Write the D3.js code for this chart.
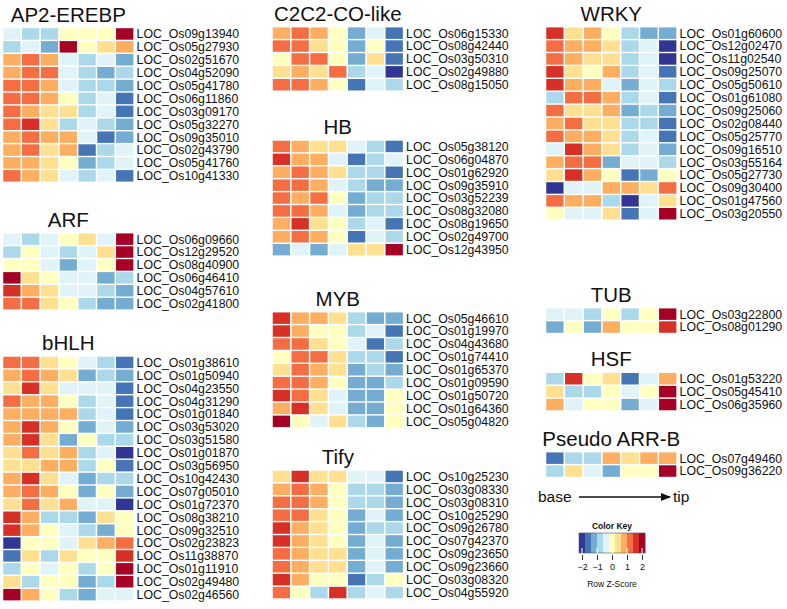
<!DOCTYPE html>
<html>
<head>
<meta charset="utf-8">
<script src="https://cdn.jsdelivr.net/npm/d3@7"></script>
<style>
  body { margin: 0; background: #fff; }
  svg { display: block; font-family: "Liberation Sans", Arial, sans-serif; }
</style>
</head>
<body>
<svg id="chart"></svg>
<script>
// leaf sections, base -> tip
const stages = ['s1', 's2', 's3', 's4', 's5', 's6', 's7'];

const ap2Genes = ['LOC_Os09g13940', 'LOC_Os05g27930', 'LOC_Os02g51670', 'LOC_Os04g52090', 'LOC_Os05g41780',
    'LOC_Os06g11860', 'LOC_Os03g09170', 'LOC_Os05g32270', 'LOC_Os09g35010', 'LOC_Os02g43790', 'LOC_Os05g41760', 'LOC_Os10g41330'];
const ap2Values = [
    [-0.4, -0.8, -0.8, 0, 0, 0, 2],
    [-0.8, -0.4, -1.2, 2, 0, 0.4, 0.8],
    [0.8, 1.2, 0.8, -0.4, -0.8, -0.4, -1.2],
    [0.8, 1.2, 1.2, -0.4, -0.8, -1.2, -0.8],
    [1.2, 1.2, 0.8, -0.4, -0.8, -0.8, -1.2],
    [1.2, 1.2, 0.8, 0, -0.8, -0.4, -1.6],
    [1.2, 0.8, 0.4, 0.4, -0.8, -0.4, -1.6],
    [1.2, 1.6, 0.4, -0.8, -0.4, -0.8, -1.2],
    [0.8, 1.2, 0.8, 0.8, -0.4, -1.6, -1.2],
    [0.8, 1.2, 0.4, 0.8, -1.6, -0.8, -0.4],
    [0.8, 0.8, 0.4, 0, -1.2, -0.8, -0.4],
    [1.2, 0.8, 0.4, -0.4, -0.8, -0.4, -1.6]
];

const arfGenes = ['LOC_Os06g09660', 'LOC_Os12g29520', 'LOC_Os08g40900', 'LOC_Os06g46410', 'LOC_Os04g57610', 'LOC_Os02g41800'];
const arfValues = [
    [-0.4, -0.8, -0.4, 0, 0.4, -0.4, 2],
    [-0.8, 0, -0.4, -0.8, -0.4, 0.4, 2],
    [0, 0, -0.4, -1.2, -0.4, 0, 2],
    [2, 0.4, 0, -0.4, -0.4, -1.2, -0.8],
    [1.6, 0.8, 0.4, -0.4, -0.4, -0.8, -1.2],
    [1.2, 1.2, 0.4, 0, -0.8, -1.2, -1.2]
];

const bhlhGenes = ['LOC_Os01g38610', 'LOC_Os01g50940', 'LOC_Os04g23550', 'LOC_Os04g31290', 'LOC_Os01g01840',
    'LOC_Os03g53020', 'LOC_Os03g51580', 'LOC_Os01g01870', 'LOC_Os03g56950', 'LOC_Os10g42430', 'LOC_Os07g05010',
    'LOC_Os01g72370', 'LOC_Os08g38210', 'LOC_Os09g32510', 'LOC_Os02g23823', 'LOC_Os11g38870', 'LOC_Os01g11910',
    'LOC_Os02g49480', 'LOC_Os02g46560'];
const bhlhValues = [
    [1.2, 1.2, 0.4, 0, -0.4, -0.8, -1.6],
    [0.8, 1.2, 0.8, 0.4, -1.2, -0.8, -1.2],
    [0.4, 1.6, 0.4, -0.4, -0.4, -0.4, -1.6],
    [1.2, 0.8, 0.8, 0, -0.8, -0.4, -1.6],
    [0.8, 0.8, 0.8, 0.8, -0.8, -0.4, -1.6],
    [0.8, 1.6, 0.8, 0, -1.2, -0.4, -1.2],
    [0.8, 1.6, 0.4, -1.2, 0, -0.8, -0.8],
    [0.4, 1.2, 0.4, 0.8, -0.8, -0.4, -2],
    [0.4, 0.4, 0.8, 0.8, -0.8, 0, -1.6],
    [0.8, 1.6, 0.4, -0.4, -1.2, -0.8, -0.8],
    [0.8, 1.2, 0.8, 0, -1.2, 0, -1.2],
    [0.4, 1.2, 0.4, 0.8, -0.4, -0.4, -2],
    [1.6, 0.8, -0.8, -0.8, -1.2, 0.4, 0],
    [1.6, 0.8, 0, -0.4, -0.8, -1.2, 0],
    [-2, 0, 0, -0.4, 0.4, 0.8, 1.2],
    [-1.6, 0.4, -0.8, 0.4, 0, 0, 1.6],
    [-0.8, 0, -0.4, 0, -0.8, 0, 2],
    [0.4, -0.8, 0, 0, -1.2, -0.8, 2],
    [2, 0.8, 0, -0.8, -1.2, -0.4, -0.4]
];

const c2c2Genes = ['LOC_Os06g15330', 'LOC_Os08g42440', 'LOC_Os03g50310', 'LOC_Os02g49880', 'LOC_Os08g15050'];
const c2c2Values = [
    [0.8, 1.2, 0.8, 0, -1.2, -0.4, -1.6],
    [1.2, 1.2, 0.4, 0, -1.2, 0, -1.6],
    [0, 1.2, 1.2, 0, -1.2, 0.4, -1.6],
    [0.4, 0.8, 0.4, 1.2, -0.8, -0.4, -2],
    [1.2, 1.2, 0.8, 0, -1.6, -0.4, -0.8]
];

const hbGenes = ['LOC_Os05g38120', 'LOC_Os06g04870', 'LOC_Os01g62920', 'LOC_Os09g35910', 'LOC_Os03g52239',
    'LOC_Os08g32080', 'LOC_Os08g19650', 'LOC_Os02g49700', 'LOC_Os12g43950'];
const hbValues = [
    [1.2, 0.8, 0.4, 0.4, -0.4, -0.8, -1.6],
    [1.6, 0.8, 0.8, -0.4, -1.6, -0.8, -0.4],
    [0.8, 1.2, 0.8, 0.4, -0.8, -0.8, -1.6],
    [1.2, 1.2, 0.8, -0.4, -0.8, -1.2, -1.2],
    [1.2, 0.8, 1.2, 0, -1.2, -0.8, -0.8],
    [1.2, 1.2, 0.8, -0.4, -1.2, -0.8, -0.8],
    [0.8, 1.6, 0.4, 0, -0.8, -0.4, -1.6],
    [0.8, 1.2, 0.8, 0, -1.6, -0.4, -0.8],
    [-1.2, -0.4, -1.2, -0.4, 0.4, 0.4, 2]
];

const mybGenes = ['LOC_Os05g46610', 'LOC_Os01g19970', 'LOC_Os04g43680', 'LOC_Os01g74410', 'LOC_Os01g65370',
    'LOC_Os01g09590', 'LOC_Os01g50720', 'LOC_Os01g64360', 'LOC_Os05g04820'];
const mybValues = [
    [1.6, 0.8, 0.8, 0.4, -0.8, -1.2, -1.2],
    [1.6, 0.8, 0, 0, -0.8, -0.4, -1.6],
    [1.2, 1.2, 0.4, 0, -0.4, -1.6, -0.8],
    [0, 1.2, 1.2, 0.4, -0.8, -0.8, -1.6],
    [0.4, 1.2, 0.8, 0.4, -1.2, -0.8, -1.2],
    [1.2, 1.2, 0.8, 0, -1.2, -1.2, -0.8],
    [1.6, 1.2, 0.4, -0.4, -1.2, -1.2, 0],
    [0.8, 1.6, 0.4, -0.4, -1.2, -1.2, 0],
    [2, 0, -0.4, 0.4, -0.8, -1.2, 0]
];

const tifyGenes = ['LOC_Os10g25230', 'LOC_Os03g08330', 'LOC_Os03g08310', 'LOC_Os10g25290', 'LOC_Os09g26780',
    'LOC_Os07g42370', 'LOC_Os09g23650', 'LOC_Os09g23660', 'LOC_Os03g08320', 'LOC_Os04g55920'];
const tifyValues = [
    [0.4, 1.6, 0.4, 0.4, -0.4, -0.4, -1.6],
    [0.8, 1.2, 0.8, 0, -0.8, -0.8, -1.2],
    [1.2, 1.2, 0.8, 0, -0.8, -0.8, -1.2],
    [1.2, 1.2, 0.4, 0, -1.2, -0.4, -1.2],
    [1.6, 0.8, 0.4, 0, -1.2, -0.8, -0.8],
    [1.6, 0.8, 0.4, 0, -1.2, -0.4, -1.2],
    [1.2, 0.8, 0.4, 0.4, -1.2, -0.4, -1.2],
    [1.2, 0.8, 0.4, 0.4, -1.2, -0.4, -1.2],
    [1.6, 0.8, 0, 0, -1.6, -0.8, 0],
    [1.2, 0, -0.8, 1.6, -0.8, -0.4, -0.8]
];

const wrkyGenes = ['LOC_Os01g60600', 'LOC_Os12g02470', 'LOC_Os11g02540', 'LOC_Os09g25070', 'LOC_Os05g50610',
    'LOC_Os01g61080', 'LOC_Os09g25060', 'LOC_Os02g08440', 'LOC_Os05g25770', 'LOC_Os09g16510', 'LOC_Os03g55164',
    'LOC_Os05g27730', 'LOC_Os09g30400', 'LOC_Os01g47560', 'LOC_Os03g20550'];
const wrkyValues = [
    [1.6, 0.4, 0.8, 0, -0.8, -1.2, -1.2],
    [1.2, 0.8, 0.8, 0.4, -0.8, -0.4, -2],
    [1.2, 0.8, 0.4, 0.4, -0.8, -0.4, -2],
    [1.6, 0.4, 0, 0.8, -0.8, -0.4, -1.6],
    [1.6, 0.8, 0.8, -0.4, -1.2, -0.4, -0.8],
    [-0.8, 1.2, 1.2, 0.8, -0.8, -0.4, -1.6],
    [1.2, 0.4, 0.4, 0.8, -1.2, -0.8, -1.2],
    [0.8, 1.2, 0.4, 0.4, -0.8, -0.8, -1.6],
    [1.2, 0.8, 0.8, 0.4, -0.8, -0.4, -1.6],
    [-0.4, 1.6, 0.8, 0.4, -0.8, -0.4, -1.2],
    [0.8, 1.2, 1.2, -1.2, -0.4, -0.4, -0.8],
    [0.4, 1.6, 0.8, 0, -1.6, -1.2, 0],
    [-2, -0.4, -0.4, 0.8, 0.8, 0.4, 1.2],
    [1.2, 0.8, 0.8, -0.8, -2, -0.4, 0.4],
    [0, -0.4, -0.4, 0.4, -1.6, -0.4, 2]
];

const tubGenes = ['LOC_Os03g22800', 'LOC_Os08g01290'];
const tubValues = [
    [-0.4, -0.4, -0.8, 0, -0.8, 0, 2],
    [-1.2, 0, -1.2, 0.8, 0, 0, 1.6]
];

const hsfGenes = ['LOC_Os01g53220', 'LOC_Os05g45410', 'LOC_Os06g35960'];
const hsfValues = [
    [-0.8, 1.6, 0, 0.4, -1.6, -0.4, 0.8],
    [0.4, -0.8, -0.8, 0, -0.4, 0, 2],
    [0.8, -0.4, 0, 0, -1.2, -0.4, 2]
];

const arrGenes = ['LOC_Os07g49460', 'LOC_Os09g36220'];
const arrValues = [
    [-1.6, -0.8, -0.8, 0.8, 0.4, 0.8, 0.8],
    [-0.8, 0.4, -0.4, -1.2, 0, 0, 2]
];

const keyTicks = [-2, -1, 0, 1, 2];

// panel placement (left edge of grid, top of first row)
const panels = [
    { title: 'AP2-EREBP', genes: ap2Genes, values: ap2Values, x: 2.5, y: 27.5 },
    { title: 'ARF', genes: arfGenes, values: arfValues, x: 2.5, y: 232.7 },
    { title: 'bHLH', genes: bhlhGenes, values: bhlhValues, x: 2.5, y: 356 },
    { title: 'C2C2-CO-like', genes: c2c2Genes, values: c2c2Values, x: 272, y: 26.7 },
    { title: 'HB', genes: hbGenes, values: hbValues, x: 272, y: 140 },
    { title: 'MYB', genes: mybGenes, values: mybValues, x: 272, y: 311.7 },
    { title: 'Tify', genes: tifyGenes, values: tifyValues, x: 272, y: 470 },
    { title: 'WRKY', genes: wrkyGenes, values: wrkyValues, x: 545.5, y: 26.7 },
    { title: 'TUB', genes: tubGenes, values: tubValues, x: 545.5, y: 307.7 },
    { title: 'HSF', genes: hsfGenes, values: hsfValues, x: 545.5, y: 372.3 },
    { title: 'Pseudo ARR-B', genes: arrGenes, values: arrValues, x: 545.5, y: 451.7 }
];

const width = 787;
const height = 609;
const cellW = 18.8;
const cellH = 12.9;

const svg = d3.select('#chart')
    .attr('width', width)
    .attr('height', height);

const colors = d3.schemeRdYlBu[11].slice().reverse();
const color = d3.scaleQuantize()
    .domain([-2.2, 2.2])
    .range(colors);

panels.forEach(function (p) {
    const xScale = d3.scaleBand()
        .domain(stages)
        .range([p.x, p.x + stages.length * cellW])
        .paddingInner(0.08)
        .paddingOuter(0.04);

    const yScale = d3.scaleBand()
        .domain(p.genes)
        .range([p.y, p.y + p.genes.length * cellH])
        .paddingInner(0.11)
        .paddingOuter(0.055);

    const g = svg.append('g');

    g.append('text')
        .attr('x', p.x + stages.length * cellW / 2)
        .attr('y', p.y - 6)
        .attr('text-anchor', 'middle')
        .attr('font-size', 20.5)
        .attr('fill', '#111')
        .text(p.title);

    const cells = [];
    p.values.forEach(function (row, i) {
        row.forEach(function (v, j) {
            cells.push({ gene: p.genes[i], stage: stages[j], value: v });
        });
    });

    g.selectAll('rect')
        .data(cells)
        .enter()
        .append('rect')
        .attr('x', function (d) { return xScale(d.stage); })
        .attr('y', function (d) { return yScale(d.gene); })
        .attr('width', xScale.bandwidth())
        .attr('height', yScale.bandwidth())
        .attr('fill', function (d) { return color(d.value); });

    g.selectAll('.gene')
        .data(p.genes)
        .enter()
        .append('text')
        .attr('class', 'gene')
        .attr('x', p.x + stages.length * cellW + 2.5)
        .attr('y', function (d) { return yScale(d) + yScale.bandwidth() / 2; })
        .attr('dy', '0.36em')
        .attr('font-size', 12.3)
        .attr('fill', '#111')
        .text(function (d) { return d; });
});

// base -> tip arrow
svg.append('defs').append('marker')
    .attr('id', 'arrow')
    .attr('viewBox', '0 0 10 10')
    .attr('refX', 9)
    .attr('refY', 5)
    .attr('markerWidth', 7)
    .attr('markerHeight', 7)
    .attr('orient', 'auto')
    .append('path')
    .attr('d', 'M0,1 L10,5 L0,9 Z')
    .attr('fill', '#111');

svg.append('text')
    .attr('x', 538)
    .attr('y', 502)
    .attr('font-size', 15.5)
    .attr('fill', '#111')
    .text('base');

svg.append('line')
    .attr('x1', 579)
    .attr('x2', 670)
    .attr('y1', 497)
    .attr('y2', 497)
    .attr('stroke', '#111')
    .attr('stroke-width', 1.5)
    .attr('marker-end', 'url(#arrow)');

svg.append('text')
    .attr('x', 673)
    .attr('y', 502)
    .attr('font-size', 15.5)
    .attr('fill', '#111')
    .text('tip');

// color key
const keyScale = d3.scaleLinear()
    .domain([-2.2, 2.2])
    .range([579, 645]);

const key = svg.append('g');

key.append('text')
    .attr('x', 612)
    .attr('y', 529)
    .attr('text-anchor', 'middle')
    .attr('font-size', 8.5)
    .attr('font-weight', 'bold')
    .attr('fill', '#111')
    .text('Color Key');

key.selectAll('rect')
    .data(colors)
    .enter()
    .append('rect')
    .attr('x', function (d) { return keyScale(color.invertExtent(d)[0]); })
    .attr('y', 533)
    .attr('width', function (d) {
        const e = color.invertExtent(d);
        return keyScale(e[1]) - keyScale(e[0]) + 0.3;
    })
    .attr('height', 20)
    .attr('fill', function (d) { return d; });

key.append('rect')
    .attr('x', 579)
    .attr('y', 533)
    .attr('width', 66)
    .attr('height', 20)
    .attr('fill', 'none')
    .attr('stroke', '#555')
    .attr('stroke-width', 0.6);

key.selectAll('.inner-tick')
    .data(keyTicks)
    .enter()
    .append('line')
    .attr('class', 'inner-tick')
    .attr('x1', function (d) { return keyScale(d); })
    .attr('x2', function (d) { return keyScale(d); })
    .attr('y1', 548)
    .attr('y2', 553)
    .attr('stroke', '#fff')
    .attr('stroke-width', 1);

const keyAxis = d3.axisBottom(keyScale)
    .tickValues(keyTicks)
    .tickSize(5)
    .tickPadding(4)
    .tickFormat(d3.format('d'));

key.append('g')
    .attr('transform', 'translate(0, 555)')
    .call(keyAxis)
    .call(function (a) { a.select('.domain').remove(); })
    .call(function (a) {
        a.selectAll('line').attr('stroke', '#333');
        a.selectAll('text').attr('font-size', 9).attr('fill', '#111')
            .attr('font-family', '"Liberation Sans", Arial, sans-serif');
    });

key.append('text')
    .attr('x', 612)
    .attr('y', 587)
    .attr('text-anchor', 'middle')
    .attr('font-size', 8.5)
    .attr('fill', '#111')
    .text('Row Z-Score');
</script>
</body>
</html>
